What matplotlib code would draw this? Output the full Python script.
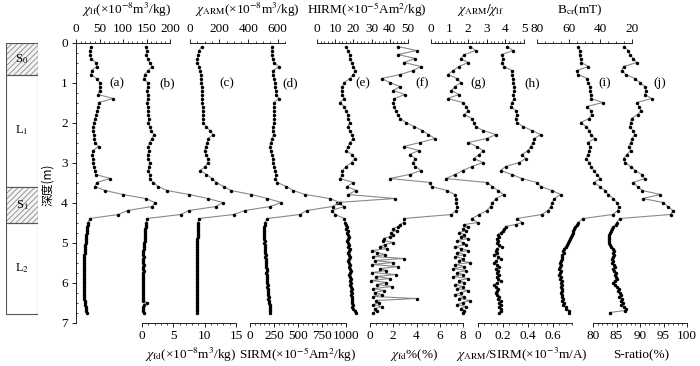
import matplotlib
matplotlib.use('Agg')
import matplotlib.pyplot as plt
from matplotlib.patches import Rectangle
from matplotlib.ticker import MultipleLocator, FuncFormatter

plt.rcParams['font.family'] = ['Liberation Serif', 'Noto Sans CJK SC']
plt.rcParams['mathtext.fontset'] = 'stix'
plt.rcParams['font.size'] = 9
plt.rcParams['hatch.linewidth'] = 0.6

# ---------------- data ----------------
depth = [0.1, 0.2, 0.3, 0.4, 0.5, 0.6, 0.7, 0.8, 0.9, 1.0,
         1.1, 1.2, 1.3, 1.4, 1.5, 1.6, 1.7, 1.8, 1.9, 2.0,
         2.1, 2.2, 2.3, 2.4, 2.5, 2.6, 2.7, 2.8, 2.9, 3.0,
         3.1, 3.2, 3.3, 3.4, 3.5, 3.6, 3.7, 3.8, 3.9, 4.0,
         4.1, 4.2, 4.3, 4.4,
         4.5, 4.55, 4.6, 4.65, 4.7, 4.75, 4.8, 4.85, 4.9, 4.95,
         5.0, 5.05, 5.1, 5.15, 5.2, 5.25, 5.3, 5.35, 5.4, 5.45,
         5.5, 5.55, 5.6, 5.65, 5.7, 5.75, 5.8, 5.85, 5.9, 5.95,
         6.0, 6.05, 6.1, 6.15, 6.2, 6.25, 6.3, 6.35, 6.4, 6.45,
         6.5, 6.55, 6.6, 6.65, 6.7, 6.75]

chi_lf = [31, 30, 30, 32, 42, 44, 33, 32, 44, 50, 51, 50, 47, 79, 48, 47, 45, 43, 41, 38,
          37, 36, 38, 39, 40, 48, 36, 35, 37, 36, 38, 40, 42, 73, 44, 40, 62, 100, 148, 168,
          162, 110, 90, 30,
          26, 25, 24, 24, 23, 23, 22, 22, 21, 21, 21, 20, 20, 19, 19, 19, 18, 18, 18, 17,
          17, 16, 17, 16, 16, 17, 16, 16, 17, 16, 16, 17, 16, 17, 17, 18, 17, 18, 18, 19,
          19, 20, 21, 22, 22, 23]

chi_fd = [0.6, 0.8, 0.7, 0.9, 1.2, 1.6, 1.0, 0.4, 0.3, 0.9, 0.9, 0.8, 0.9, 0.9, 0.8, 0.9, 1.0, 1.0, 1.1, 1.0,
          1.3, 1.5, 1.9, 1.6, 1.2, 1.0, 1.1, 0.9, 1.0, 1.2, 1.1, 1.0, 1.3, 1.2, 1.8, 2.6, 4.0, 7.5, 10.5, 12.9,
          11.8, 7.5, 6.2, 0.8,
          0.7, 0.6, 0.6, 0.5, 0.5, 0.5, 0.4, 0.4, 0.4, 0.4, 0.3, 0.3, 0.3, 0.3, 0.2, 0.2, 0.2, 0.3, 0.2, 0.1,
          0.2, 0.3, 0.1, 0.2, 0.3, 0.1, 0.2, 0.2, 0.1, 0.1, 0.2, 0.1, 0.2, 0.2, 0.1, 0.2, 0.1, 0.2, 0.1, 0.2,
          0.8, 0.3, 0.2, 0.1, 0.2, 0.3]

chi_arm = [80, 62, 55, 50, 48, 65, 68, 72, 75, 78, 80, 82, 80, 85, 84, 86, 88, 90, 88, 92,
           110, 136, 158, 125, 118, 108, 100, 112, 125, 122, 105, 70, 112, 150, 180, 230, 280, 420, 530, 625,
           550, 375, 300, 60,
           57, 56, 55, 54, 54, 53, 52, 52, 51, 51, 50, 50, 49, 49, 48, 48, 47, 48, 47, 46,
           46, 47, 46, 45, 46, 47, 46, 45, 46, 46, 47, 46, 46, 47, 48, 47, 46, 47, 48, 47,
           48, 47, 48, 47, 48, 49]

sirm = [226, 230, 228, 235, 245, 305, 240, 236, 250, 258, 262, 268, 275, 300, 250, 245, 248, 252, 255, 250,
        240, 235, 245, 230, 215, 205, 215, 225, 240, 235, 250, 260, 270, 265, 285, 380, 450, 575, 830, 935,
        860, 590, 520, 180,
        160, 155, 150, 148, 145, 150, 148, 145, 150, 155, 150, 152, 155, 158, 155, 160, 162, 160, 165, 168,
        165, 170, 168, 172, 175, 170, 175, 178, 180, 175, 180, 185, 182, 188, 190, 185, 192, 195, 190, 198,
        200, 205, 210, 205, 212, 208]

hirm = [16, 17, 18, 18, 19, 20, 21, 20, 18, 15, 14, 13.5, 14, 15, 12.5, 15, 16, 17, 17, 18,
        17, 18, 19, 20, 18, 17, 16, 19, 21, 19, 16, 14, 14, 12.5, 20, 16.5, 21.5, 17, 43, 11,
        15, 8, 10, 15,
        15.5, 16, 16.5, 16, 17, 16.5, 17, 17.5, 17, 16.5, 17, 17.5, 17, 18, 17.5, 17, 17.5, 18, 17.5, 17,
        17.5, 18, 17.5, 18, 18.5, 18, 17.5, 18, 18.5, 18, 18.5, 18, 18.5, 19, 18.5, 19, 18.5, 19, 19.5, 19,
        19.5, 20, 19.5, 20, 21, 21.5]

chi_fd_pct = [2.4, 4.0, 2.4, 3.9, 2.9, 4.4, 3.7, 2.6, 1.0, 1.7, 2.6, 2.0, 3.0, 2.1, 2.0, 2.1, 2.2, 2.4, 2.6, 3.1,
              3.8, 4.5, 5.0, 5.6, 4.3, 2.9, 4.2, 3.4, 3.9, 3.7, 3.9, 4.4, 3.4, 1.7, 5.2, 5.3, 6.6, 7.3, 7.4, 7.4,
              7.5, 7.4, 7.0, 2.9,
              2.9, 2.6, 2.4, 2.0, 2.3, 1.8, 2.0, 1.7, 1.2, 1.1, 2.0, 1.3, 0.9, 1.5, 0.2, 0.6, 1.3, 0.3, 2.9, 0.4,
              2.0, 0.2, 2.4, 0.9, 1.4, 0.2, 2.2, 0.5, 1.7, 0.1, 1.4, 0.6, 1.9, 0.3, 1.2, 0.4, 1.0, 0.3, 4.0, 0.5,
              0.8, 0.3, 1.0, 0.4, 0.6, 0.3]

arm_lf = [2.1, 2.4, 1.8, 1.6, 2.0, 1.5, 1.2, 0.9, 1.4, 1.6, 1.3, 1.1, 1.5, 0.9, 1.7, 1.9, 2.0, 1.8, 2.2, 2.3,
          2.4, 2.8, 3.5, 3.0, 2.0, 2.45, 2.8, 2.6, 2.3, 2.8, 2.2, 1.7, 1.3, 0.8, 3.0, 3.3, 3.6, 3.9, 3.5, 3.3,
          3.2, 3.0, 2.6, 2.2,
          2.5, 1.8, 2.0, 1.7, 1.9, 1.5, 1.8, 1.6, 2.0, 1.4, 1.7, 1.9, 1.3, 1.6, 2.0, 1.4, 1.8, 1.3, 1.7, 1.5,
          2.1, 1.3, 1.8, 1.2, 1.9, 1.4, 1.7, 1.2, 2.0, 1.5, 1.8, 1.3, 1.7, 1.4, 2.0, 1.6, 1.3, 1.8, 1.5, 2.1,
          1.7, 1.4, 1.9, 1.6, 1.8, 1.7]

arm_sirm = [0.23, 0.28, 0.19, 0.20, 0.19, 0.21, 0.27, 0.27, 0.28, 0.28, 0.29, 0.29, 0.28, 0.29, 0.27, 0.26,
            0.30, 0.31, 0.30, 0.31, 0.36, 0.43, 0.50, 0.45, 0.44, 0.42, 0.40, 0.35, 0.38, 0.33, 0.22, 0.18,
            0.27, 0.35, 0.47, 0.50, 0.59, 0.66, 0.61, 0.59, 0.58, 0.56, 0.51, 0.31,
            0.35, 0.30, 0.22, 0.21, 0.20, 0.18, 0.16, 0.17, 0.15, 0.16, 0.15, 0.17, 0.19, 0.15, 0.14, 0.15,
            0.13, 0.16, 0.18, 0.14, 0.13, 0.15, 0.17, 0.14, 0.16, 0.15, 0.17, 0.15, 0.16, 0.18, 0.15, 0.13,
            0.14, 0.16, 0.15, 0.14, 0.15, 0.17, 0.16, 0.18, 0.17, 0.18, 0.17, 0.18, 0.18, 0.17]

bcr = [54, 53, 53, 52.5, 52, 47.5, 55, 54, 48.5, 47.5, 46.5, 46.5, 46, 46, 38.5, 48.5, 46, 45.5, 47, 52.5,
       49, 47, 46, 43.5, 48, 46.5, 47, 48, 49, 47, 46, 44, 42, 40, 44, 40.5, 37, 35, 32, 29.5,
       28.5, 29, 32, 51,
       54, 55, 56, 56.5, 57, 57.5, 58, 58.5, 59, 60, 60.5, 61, 62, 63, 63.5, 63, 64, 64.5, 64, 65,
       65.5, 65, 65.5, 66, 65, 65.5, 66, 65, 65.5, 64.5, 65, 64.5, 65, 64, 64.5, 65, 64, 64.5, 63.5, 64,
       63, 63.5, 62, 61.5, 59.5, 60]

s_ratio = [86.5, 87.5, 87.8, 88.6, 89.3, 86.5, 86.1, 87.0, 88.9, 90.0, 91.0, 91.3, 91.0, 92.5, 89.3, 89.8,
           90.2, 89.5, 88.2, 88.0, 87.8, 88.5, 88.9, 88.3, 88.0, 87.6, 88.0, 87.2, 86.5, 86.8, 88.0, 89.0,
           90.4, 91.0, 88.5, 89.5, 90.5, 94.3, 90.6, 94.9, 95.9, 97.0, 96.5, 85.7,
           85.0, 84.8, 84.3, 84.0, 83.8, 83.7, 83.5, 83.4, 83.3, 83.3, 83.5, 83.7, 83.9, 84.2, 84.4, 84.3,
           84.5, 84.2, 84.0, 84.3, 84.1, 84.4, 84.6, 84.3, 84.5, 84.8, 84.6, 84.9, 85.0, 84.6, 84.3, 84.7,
           85.0, 85.5, 85.3, 85.8, 86.0, 85.6, 86.2, 85.9, 86.4, 86.0, 86.6, 87.0, 86.8, 83.6]

strata_names = ['S$_0$', 'L$_1$', 'S$_1$', 'L$_2$']
strata_top = [0.0, 0.81, 3.61, 4.51]
strata_base = [0.81, 3.61, 4.51, 6.78]
strata_hatched = [True, False, True, False]

# ---------------- layout (pixels) ----------------
W, H = 700, 366
Y_TOP, Y_BOT = 42.5, 322.5

fig = plt.figure(figsize=(W / 100, H / 100), dpi=100)


def add_ax(x0, x1):
    return fig.add_axes([x0 / W, 1 - Y_BOT / H, (x1 - x0) / W, (Y_BOT - Y_TOP) / H])


def ftext(x, y, s, **kw):
    fig.text(x / W, 1 - y / H, s, ha='center', va='center', **kw)


fmt = FuncFormatter(lambda v, p: f'{v:g}')

# (values, x0, x1, xlim, major, minor, title, title_x, panel, panel_x)
top_specs = [
    (chi_lf, 76, 170, (0, 200), 50, 10,
     r'$\chi_{\mathrm{lf}}$(×10$^{-8}$m$^3$/kg)', 127, '(a)', 117),
    (chi_arm, 190, 285, (0, 650), 200, 50,
     r'$\chi_{\mathrm{ARM}}$(×10$^{-8}$m$^3$/kg)', 247, '(c)', 227),
    (hirm, 317, 408, (0, 50), 10, 2,
     r'HIRM(×10$^{-5}$Am$^2$/kg)', 367, '(e)', 363),
    (arm_lf, 431, 524, (0, 5), 1, 0.2,
     r'$\chi_{\mathrm{ARM}}/\chi_{\mathrm{lf}}$', 481, '(g)', 478),
    (bcr, 537, 632, (80, 20), 20, 5,
     r'B$_{\mathrm{cr}}$(mT)', 580, '(i)', 605),
]
bottom_specs = [
    (chi_fd, 142, 236, (0, 15), 5, 1,
     r'$\chi_{\mathrm{fd}}$(×10$^{-8}$m$^3$/kg)', 191, '(b)', 167),
    (sirm, 250, 346, (0, 1000), 250, 50,
     r'SIRM(×10$^{-5}$Am$^2$/kg)', 298, '(d)', 290),
    (chi_fd_pct, 370, 463, (0, 8), 2, 0.5,
     r'$\chi_{\mathrm{fd}}$%(%)', 414, '(f)', 422),
    (arm_sirm, 478, 572, (0, 0.75), 0.2, 0.05,
     r'$\chi_{\mathrm{ARM}}$/SIRM(×10$^{-3}$m/A)', 522, '(h)', 532),
    (s_ratio, 593, 687, (80, 100), 5, 1,
     r'S-ratio(%)', 641, '(j)', 660),
]


def make_panel(spec, where):
    vals, x0, x1, lim, major, minor, title, tx, panel, px = spec
    ax = add_ax(x0, x1)
    ax.set_xlim(*lim)
    ax.set_ylim(7, 0)
    ax.patch.set_alpha(0)
    for s in ['left', 'right', 'top', 'bottom']:
        ax.spines[s].set_visible(s == where)
    ax.spines[where].set_linewidth(0.6)
    ax.xaxis.set_ticks_position(where)
    ax.yaxis.set_visible(False)
    ax.xaxis.set_major_locator(MultipleLocator(major))
    ax.xaxis.set_minor_locator(MultipleLocator(minor))
    ax.xaxis.set_major_formatter(fmt)
    ax.tick_params(axis='x', which='major', direction='out', length=3, width=0.6,
                   pad=2.5, labelsize=9.5)
    ax.tick_params(axis='x', which='minor', direction='out', length=1.6, width=0.5)
    ax.plot(vals, depth, color='#8a8a8a', lw=0.8, marker='o', ms=2.5,
            mfc='black', mec='black', mew=0, clip_on=False, zorder=3)
    ty = 10 if where == 'top' else 355
    ftext(tx, ty, title, fontsize=9.5)
    ftext(px, 83, panel, fontsize=9.5)
    return ax


axes_top = [make_panel(s, 'top') for s in top_specs]
axes_bot = [make_panel(s, 'bottom') for s in bottom_specs]

# depth axis on the chi_lf panel
ax0 = axes_top[0]
ax0.spines['left'].set_visible(True)
ax0.spines['left'].set_linewidth(0.6)
ax0.yaxis.set_visible(True)
ax0.yaxis.set_major_locator(MultipleLocator(1))
ax0.yaxis.set_minor_locator(MultipleLocator(0.25))
ax0.tick_params(axis='y', which='major', direction='out', length=3, width=0.6,
                pad=3, labelsize=9.5)
ax0.tick_params(axis='y', which='minor', direction='in', length=1.6, width=0.5)
ftext(48, 185, '深度(m)', rotation=90, fontsize=8.5,
      family=['Noto Sans CJK SC', 'DejaVu Sans'])

# strata column
axs = add_ax(6, 38)
axs.set_xlim(0, 1)
axs.set_ylim(7, 0)
axs.axis('off')
for name, top, base, hatched in zip(strata_names, strata_top, strata_base, strata_hatched):
    if hatched:
        axs.add_patch(Rectangle((0, top), 1, base - top, facecolor='#f4f4f4',
                                edgecolor='#888888', hatch='//////', lw=0))
    axs.add_patch(Rectangle((0, top), 1, base - top, facecolor='none',
                            edgecolor='#555555', lw=0.8))
    axs.text(0.5, (top + base) / 2 if name != 'L$_1$' else 2.2, name,
             ha='center', va='center', fontsize=9)

fig.savefig('out.png', dpi=100)
